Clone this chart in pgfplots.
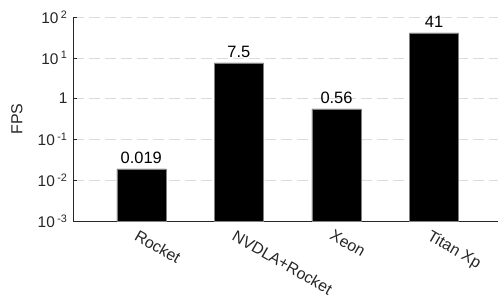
\documentclass[border=0pt]{standalone}
\usepackage{fontspec}
\setmainfont{Liberation Sans}
\usepackage{pgfplots}
\pgfplotsset{compat=1.18}
\definecolor{axc}{HTML}{262626}
\definecolor{gridc}{HTML}{DCDCDC}
\begin{document}
\begin{tikzpicture}
\begin{axis}[
  scale only axis, width=429.4bp, height=204bp,
  ymode=log, ymin=1e-3, ymax=1e2, log origin=infty,
  xmin=0.3, xmax=4.7,
  axis x line*=bottom, axis y line*=left,
  axis line style={color=axc, line width=0.6bp, -},
  ybar, bar width=49bp,
  xtick={1,2,3,4}, xticklabels={Rocket, NVDLA+Rocket, Xeon, Titan Xp},
  xticklabel style={rotate=-30, anchor=north west, font=\fontsize{16}{18}\selectfont, text=axc, inner sep=1bp, xshift=1.2bp, yshift=-7bp},
  ytick={1e-3,1e-2,1e-1,1,10,100},
  yticklabels={10\textsuperscript{\hspace{2.5bp}-3},10\textsuperscript{\hspace{2.5bp}-2},10\textsuperscript{\hspace{2.5bp}-1},1,10\textsuperscript{\hspace{2.5bp}1},10\textsuperscript{\hspace{2.5bp}2}},
  yticklabel style={font=\fontsize{15.5}{17}\selectfont, text=axc, xshift=-2bp},
  minor ytick={}, yminorticks=false,
  ymajorgrids, major grid style={color=gridc, line width=0.6bp, dash pattern=on 11bp off 5bp},
  tick align=inside, major tick length=4.5bp,
  tick style={color=axc, line width=0.6bp},
  ylabel={FPS},
  every axis y label/.style={at={(rel axis cs:0,0.5)}, anchor=south, rotate=90, yshift=47bp, font=\fontsize{16}{18}\selectfont, text=axc},
  nodes near coords, point meta=explicit symbolic,
  every node near coord/.append style={font=\fontsize{16.5}{18}\selectfont, text=black, inner sep=2bp, anchor=south, yshift=3bp},
]
\addplot[fill=black, draw=gray, line width=0.5bp] coordinates {
  (1,0.019) [0.019]
  (2,7.5) [7.5]
  (3,0.56) [0.56]
  (4,41) [41]
};
\coordinate (o) at (rel axis cs:0,0);
\end{axis}
\pgfresetboundingbox
\path (o) ++(-73bp,-76bp) rectangle ++(498bp,297bp);
\end{tikzpicture}
\end{document}
